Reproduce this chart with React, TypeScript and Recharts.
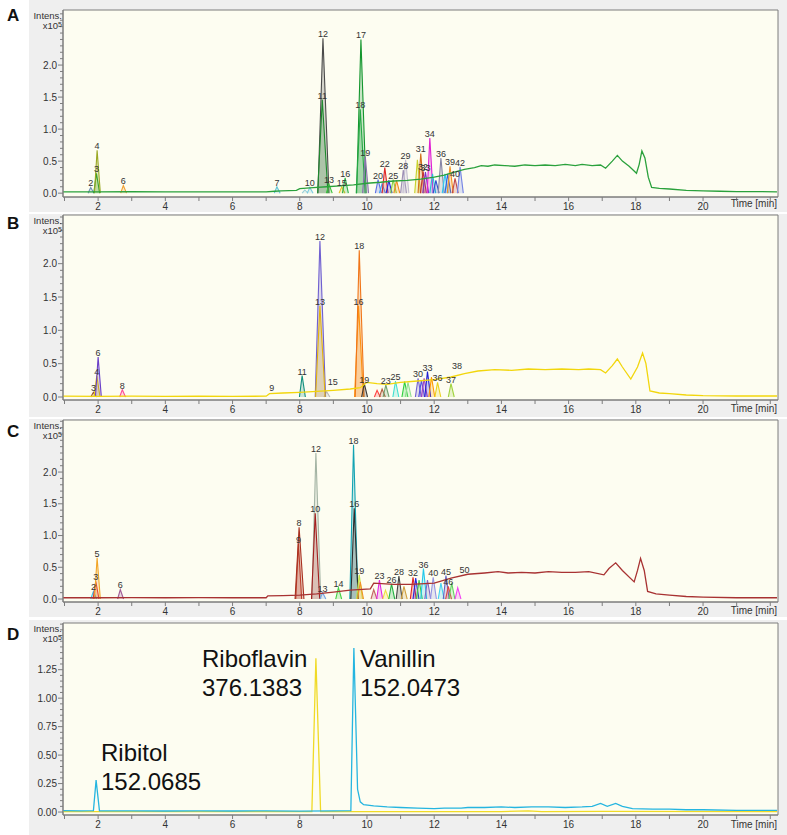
import { ComposedChart, Area, Line, Scatter, XAxis, YAxis, CartesianGrid, ReferenceArea } from 'recharts';

type Pt = [number, number];
type Peak = { n: string; t: number; h: number; c: string; w?: number };

const FONT = '"Liberation Sans", Arial, sans-serif';
const AXIS = '#7d7d7d';
const X_DOMAIN: [number, number] = [0.955, 22.23];

const timeTicks = [1, 2, 3, 4, 5, 6, 7, 8, 9, 10, 11, 12, 13, 14, 15, 16, 17, 18, 19, 20, 21, 22];
const timeLabels = [2, 4, 6, 8, 10, 12, 14, 16, 18, 20];
const intensMajorABC = [0, 0.5, 1.0, 1.5, 2.0];
const intensMajorD = [0, 0.25, 0.5, 0.75, 1.0, 1.25];

// total ion traces (time, intensity x1e5)
const baselineA: Pt[] = [
  [0.96, 0.02], [2, 0.02], [3, 0.022], [4, 0.02], [5, 0.021], [6, 0.02], [7, 0.02], [7.25, 0.03], [7.45, 0.035],
  [7.9, 0.045], [8.0, 0.07], [8.4, 0.085], [8.8, 0.1], [9.2, 0.115], [9.6, 0.13], [10, 0.155], [10.4, 0.17],
  [10.8, 0.19], [11.2, 0.2], [11.6, 0.22], [12, 0.25], [12.3, 0.28], [12.6, 0.33], [12.9, 0.37], [13.2, 0.4],
  [13.4, 0.43], [13.6, 0.42], [13.8, 0.44], [14.1, 0.43], [14.4, 0.42], [14.7, 0.44], [15, 0.43], [15.3, 0.44],
  [15.6, 0.43], [15.9, 0.45], [16.2, 0.43], [16.4, 0.45], [16.7, 0.43], [16.95, 0.44], [17.1, 0.39], [17.3, 0.5],
  [17.45, 0.59], [17.6, 0.5], [17.8, 0.42], [18.02, 0.31], [18.1, 0.45], [18.18, 0.66], [18.27, 0.55], [18.37, 0.25],
  [18.47, 0.09], [18.7, 0.075], [19, 0.065], [19.5, 0.045], [20, 0.035], [20.5, 0.03], [21, 0.025], [21.5, 0.025], [22.2, 0.02],
];

const baselineB: Pt[] = [
  [0.96, 0.012], [2, 0.01], [3, 0.012], [4, 0.01], [5, 0.011], [6, 0.01], [7, 0.012], [7.1, 0.05], [7.5, 0.06],
  [8, 0.07], [8.5, 0.085], [9, 0.1], [9.5, 0.12], [9.8, 0.14], [10, 0.22], [10.3, 0.2], [10.6, 0.19], [11, 0.22],
  [11.5, 0.24], [12, 0.26], [12.5, 0.3], [12.9, 0.35], [13.3, 0.39], [13.8, 0.41], [14.3, 0.4], [14.8, 0.42],
  [15.3, 0.41], [15.8, 0.42], [16.3, 0.41], [16.6, 0.42], [16.95, 0.41], [17.1, 0.36], [17.3, 0.47], [17.45, 0.57],
  [17.6, 0.45], [17.85, 0.27], [18.05, 0.45], [18.2, 0.66], [18.3, 0.5], [18.42, 0.09], [18.7, 0.06], [19, 0.05],
  [19.5, 0.03], [20, 0.02], [21, 0.015], [22.2, 0.015],
];

const baselineC: Pt[] = [
  [0.96, 0.02], [2, 0.02], [3, 0.021], [4, 0.02], [5, 0.022], [6, 0.02], [7, 0.02], [7.05, 0.05], [7.5, 0.055],
  [8, 0.06], [8.5, 0.08], [9, 0.11], [9.5, 0.14], [10.1, 0.16], [10.2, 0.25], [10.8, 0.23], [11.3, 0.23], [12, 0.25],
  [12.5, 0.33], [13, 0.39], [13.5, 0.41], [13.9, 0.43], [14.2, 0.41], [14.6, 0.42], [15, 0.41], [15.4, 0.43],
  [15.8, 0.42], [16.2, 0.42], [16.6, 0.43], [17.05, 0.38], [17.2, 0.48], [17.4, 0.57], [17.6, 0.45], [17.95, 0.27],
  [18.05, 0.45], [18.14, 0.64], [18.25, 0.45], [18.35, 0.12], [18.6, 0.08], [19, 0.06], [19.5, 0.04], [20, 0.03],
  [21, 0.02], [22.2, 0.02],
];

const cyanD: Pt[] = [
  [0.96, 0.012], [1.5, 0.01], [1.86, 0.012], [1.94, 0.28], [2.04, 0.01], [3, 0.01], [4, 0.009], [5, 0.011],
  [6, 0.009], [7, 0.01], [8, 0.008], [9, 0.01], [9.52, 0.012], [9.61, 1.44], [9.72, 0.2], [9.8, 0.09], [9.9, 0.065],
  [10.2, 0.055], [10.6, 0.045], [11, 0.04], [11.5, 0.035], [12, 0.03], [12.3, 0.035], [12.8, 0.035], [13, 0.04],
  [13.5, 0.04], [14, 0.045], [14.4, 0.04], [14.9, 0.045], [15.4, 0.045], [15.9, 0.04], [16.4, 0.045], [16.7, 0.05],
  [16.95, 0.075], [17.15, 0.05], [17.4, 0.075], [17.6, 0.05], [17.9, 0.03], [18.5, 0.025], [19, 0.025], [19.5, 0.02],
  [20, 0.02], [21, 0.015], [22.2, 0.015],
];

const yellowD: Pt[] = [
  [0.96, 0.004], [4, 0.004], [8, 0.004], [8.36, 0.004], [8.48, 1.35], [8.62, 0.004], [10, 0.003], [12, 0.003],
  [14, 0.004], [14.8, 0.01], [15.2, 0.004], [17, 0.005], [22.2, 0.003],
];

// extracted ion peaks: label, apex time, apex height, colour
const peaksA: Peak[] = [
  { n: '2', t: 1.78, h: 0.09, c: '#6f8fb5' },
  { n: '3', t: 1.95, h: 0.31, c: '#22a02a' },
  { n: '4', t: 1.97, h: 0.67, c: '#9aa823' },
  { n: '6', t: 2.75, h: 0.12, c: '#f0a030' },
  { n: '7', t: 7.32, h: 0.1, c: '#5ec4d4' },
  { n: '', t: 8.15, h: 0.05, c: '#9ad0d8' },
  { n: '10', t: 8.3, h: 0.09, c: '#7ccbe0' },
  { n: '12', t: 8.69, h: 2.42, c: '#4a4a4a', w: 0.15 },
  { n: '11', t: 8.67, h: 1.46, c: '#1e8a2e', w: 0.14 },
  { n: '13', t: 8.87, h: 0.14, c: '#3cc43c' },
  { n: '15', t: 9.25, h: 0.1, c: '#e6c21e' },
  { n: '16', t: 9.35, h: 0.24, c: '#2fb14a' },
  { n: '17', t: 9.82, h: 2.4, c: '#14962e', w: 0.13 },
  { n: '18', t: 9.8, h: 1.31, c: '#25a845', w: 0.12 },
  { n: '19', t: 9.95, h: 0.57, c: '#8c6fb0' },
  { n: '20', t: 10.33, h: 0.21, c: '#5a6ee6' },
  { n: '', t: 10.45, h: 0.15, c: '#40a0f0' },
  { n: '22', t: 10.53, h: 0.4, c: '#e02424' },
  { n: '', t: 10.65, h: 0.2, c: '#2424e0' },
  { n: '25', t: 10.78, h: 0.21, c: '#8ad040' },
  { n: '', t: 10.88, h: 0.2, c: '#f08c20' },
  { n: '28', t: 11.08, h: 0.36, c: '#9d8fb5' },
  { n: '29', t: 11.15, h: 0.52, c: '#c4bed2' },
  { n: '', t: 11.5, h: 0.52, c: '#c8d22a' },
  { n: '31', t: 11.6, h: 0.62, c: '#d2701a' },
  { n: '32', t: 11.67, h: 0.34, c: '#c23434' },
  { n: '33', t: 11.74, h: 0.33, c: '#7a34c8' },
  { n: '34', t: 11.87, h: 0.86, c: '#e01ed2' },
  { n: '', t: 11.95, h: 0.3, c: '#28c0d8' },
  { n: '', t: 12.05, h: 0.2, c: '#3050d0' },
  { n: '36', t: 12.2, h: 0.55, c: '#8585a5' },
  { n: '', t: 12.32, h: 0.3, c: '#30c8f0' },
  { n: '', t: 12.4, h: 0.3, c: '#3060e0' },
  { n: '39', t: 12.47, h: 0.42, c: '#f29022' },
  { n: '40', t: 12.62, h: 0.23, c: '#c04848' },
  { n: '42', t: 12.77, h: 0.41, c: '#7484e4' },
];

const peaksB: Peak[] = [
  { n: '3', t: 1.86, h: 0.07, c: '#a0522d' },
  { n: '4', t: 1.96, h: 0.32, c: '#e8c800' },
  { n: '6', t: 2.0, h: 0.6, c: '#6a3fc8' },
  { n: '8', t: 2.72, h: 0.11, c: '#ff4d94' },
  { n: '9', t: 7.17, h: 0.08, c: '' },
  { n: '11', t: 8.07, h: 0.32, c: '#12907e' },
  { n: '', t: 8.8, h: 0.08, c: '#b8b8b8' },
  { n: '12', t: 8.6, h: 2.34, c: '#6f5fd0', w: 0.14 },
  { n: '13', t: 8.6, h: 1.37, c: '#e3b30a', w: 0.13 },
  { n: '15', t: 8.98, h: 0.16, c: '' },
  { n: '16', t: 9.75, h: 1.37, c: '#ff9a10', w: 0.12 },
  { n: '18', t: 9.77, h: 2.2, c: '#f07518', w: 0.12 },
  { n: '19', t: 9.92, h: 0.2, c: '#3a3a3a' },
  { n: '', t: 10.3, h: 0.1, c: '#ff4040' },
  { n: '', t: 10.45, h: 0.12, c: '#b06040' },
  { n: '23', t: 10.56, h: 0.18, c: '#6fa36f' },
  { n: '25', t: 10.85, h: 0.24, c: '#3fe0d0' },
  { n: '', t: 11.12, h: 0.23, c: '#30d040' },
  { n: '', t: 11.22, h: 0.22, c: '#90e090' },
  { n: '30', t: 11.52, h: 0.28, c: '#7362d2' },
  { n: '', t: 11.62, h: 0.25, c: '#5050e0' },
  { n: '', t: 11.7, h: 0.28, c: '#a040c0' },
  { n: '33', t: 11.8, h: 0.38, c: '#1f1fd4' },
  { n: '', t: 11.92, h: 0.3, c: '#ff9a00' },
  { n: '36', t: 12.1, h: 0.22, c: '#e9d21e' },
  { n: '37', t: 12.5, h: 0.2, c: '#9fd33c' },
  { n: '38', t: 12.68, h: 0.4, c: '' },
];

const peaksC: Peak[] = [
  { n: '2', t: 1.86, h: 0.12, c: '#38c2e6' },
  { n: '3', t: 1.93, h: 0.28, c: '#e23434' },
  { n: '5', t: 1.97, h: 0.65, c: '#f2a526' },
  { n: '6', t: 2.66, h: 0.15, c: '#a05a96' },
  { n: '9', t: 7.96, h: 0.87, c: '#c0422e' },
  { n: '8', t: 7.98, h: 1.13, c: '#a8301f', w: 0.12 },
  { n: '12', t: 8.48, h: 2.3, c: '#a4b4a4', w: 0.12 },
  { n: '10', t: 8.46, h: 1.35, c: '#a31f1f', w: 0.11 },
  { n: '13', t: 8.68, h: 0.1, c: '#74a4e4' },
  { n: '14', t: 9.15, h: 0.18, c: '#44d244' },
  { n: '18', t: 9.6, h: 2.43, c: '#12a3b3', w: 0.11 },
  { n: '16', t: 9.62, h: 1.43, c: '#2e2e2e', w: 0.1 },
  { n: '19', t: 9.77, h: 0.38, c: '#c4e444' },
  { n: '', t: 9.8, h: 0.27, c: '#f29224' },
  { n: '', t: 10.2, h: 0.15, c: '#c46464' },
  { n: '23', t: 10.37, h: 0.3, c: '#e224e2' },
  { n: '', t: 10.55, h: 0.14, c: '#f0e040' },
  { n: '26', t: 10.73, h: 0.24, c: '#24b244' },
  { n: '28', t: 10.95, h: 0.36, c: '#444444' },
  { n: '', t: 11.1, h: 0.2, c: '#d0a040' },
  { n: '32', t: 11.37, h: 0.34, c: '#e22424' },
  { n: '', t: 11.45, h: 0.33, c: '#2424e2' },
  { n: '', t: 11.55, h: 0.3, c: '#44c444' },
  { n: '36', t: 11.68, h: 0.48, c: '#22c8ea' },
  { n: '', t: 11.8, h: 0.3, c: '#8464c4' },
  { n: '40', t: 11.97, h: 0.34, c: '#9494e4' },
  { n: '', t: 12.2, h: 0.25, c: '#44d2f2' },
  { n: '45', t: 12.35, h: 0.37, c: '#6464c4' },
  { n: '46', t: 12.42, h: 0.2, c: '#e24444' },
  { n: '', t: 12.52, h: 0.25, c: '#64d264' },
  { n: '', t: 12.7, h: 0.18, c: '#f244f2' },
  { n: '50', t: 12.9, h: 0.4, c: '' },
];

const toRows = (pts: Pt[]) => pts.map(([t, v]) => ({ t, v }));
const peakRows = (p: Peak) => {
  const w = p.w ?? 0.08;
  return [{ t: p.t - w, v: 0 }, { t: p.t, v: p.h }, { t: p.t + w * 1.2, v: 0 }];
};
const tickSteps = (top: number, step: number) => {
  const out: number[] = [];
  for (let i = 0; i * step <= top + 1e-9; i++) out.push(Math.round(i * step * 1000) / 1000);
  return out;
};

const XTick = (p: any) => {
  const v = p.payload.value;
  return (
    <g>
      <line x1={p.x} x2={p.x} y1={p.y} y2={p.y + 4} stroke={AXIS} />
      {timeLabels.includes(v) && (
        <text x={p.x} y={p.y + 6} dy="0.71em" textAnchor="middle" fontSize={10} fill="#333" fontFamily={FONT}>{v}</text>
      )}
    </g>
  );
};

const YTick = (p: any) => {
  const v = p.payload.value;
  const major = p.majors.some((m: number) => Math.abs(m - v) < 1e-6);
  return (
    <g>
      <line x1={p.x - (major ? 5 : 3)} x2={p.x} y1={p.y} y2={p.y} stroke={AXIS} />
      {major && (
        <text x={p.x - 6} y={p.y} dy="0.35em" textAnchor="end" fontSize={10} fill="#333" fontFamily={FONT}>{v.toFixed(p.digits)}</text>
      )}
    </g>
  );
};

const PeakLabel = (p: any) => (
  <text x={p.cx} y={p.cy - 1} textAnchor="middle" fontSize={9} fill="#333" fontFamily={FONT}>{p.payload.n}</text>
);

type PanelProps = {
  top: number; height: number; yDomain: [number, number]; majors: number[]; minorTop: number; minorStep: number;
  digits: number; lines: { pts: Pt[]; c: string }[]; peaks: Peak[];
};

function Panel({ top, height, yDomain, majors, minorTop, minorStep, digits, lines, peaks }: PanelProps) {
  const yTicks = tickSteps(minorTop, minorStep);
  const labels = peaks.filter((p) => p.n).map((p) => ({ t: p.t, v: p.h, n: p.n }));
  return (
    <div style={{ position: 'absolute', left: 0, top }}>
      <ComposedChart width={787} height={height} margin={{ top: 10, right: 9, bottom: 0, left: 0 }}>
        <CartesianGrid horizontal={false} vertical={false} fill="#fdfdf1" />
        <XAxis type="number" dataKey="t" domain={X_DOMAIN} ticks={timeTicks} interval={0} allowDataOverflow height={18}
          tickSize={0} tickMargin={0} tickLine={false} axisLine={{ stroke: AXIS }} tick={XTick} />
        <YAxis type="number" domain={yDomain} ticks={yTicks} interval={0} allowDataOverflow width={63}
          tickSize={0} tickMargin={0} tickLine={false} axisLine={{ stroke: AXIS }}
          tick={(p: any) => <YTick {...p} majors={majors} digits={digits} />} />
        {peaks.filter((p) => p.c).map((p, i) => (
          <Area key={`pk${i}`} type="linear" data={peakRows(p)} dataKey="v" stroke={p.c} strokeWidth={1.1}
            fill={p.c} fillOpacity={0.22} dot={false} activeDot={false} isAnimationActive={false} />
        ))}
        {lines.map((l, i) => (
          <Line key={`bl${i}`} type="linear" data={toRows(l.pts)} dataKey="v" stroke={l.c} strokeWidth={1.3}
            dot={false} activeDot={false} isAnimationActive={false} />
        ))}
        <Scatter data={labels} dataKey="v" shape={PeakLabel} isAnimationActive={false} />
        <ReferenceArea x1={X_DOMAIN[0]} x2={X_DOMAIN[1]} y1={yDomain[0]} y2={yDomain[1]} fill="none"
          stroke={AXIS} ifOverflow="visible" />
      </ComposedChart>
    </div>
  );
}

const panelBoxes = [
  { id: 'A', bgTop: 0, bgH: 212, letter: 7, intens: 11, time: 199 },
  { id: 'B', bgTop: 214, bgH: 203, letter: 215, intens: 216, time: 404 },
  { id: 'C', bgTop: 419, bgH: 198, letter: 423, intens: 421, time: 606 },
  { id: 'D', bgTop: 620, bgH: 215, letter: 626, intens: 624, time: 820 },
];

const dText: React.CSSProperties = { position: 'absolute', fontSize: 24, lineHeight: '29px', color: '#111', fontFamily: FONT };

export default function App() {
  return (
    <div style={{ position: 'absolute', left: 0, top: 0, width: 787, height: 835, background: '#fff', overflow: 'hidden', fontFamily: FONT }}>
      {panelBoxes.map((b) => (
        <div key={b.id} style={{ position: 'absolute', left: 29, top: b.bgTop, width: 758, height: b.bgH, background: '#efefef' }} />
      ))}
      <Panel top={0} height={215} yDomain={[-0.06, 2.86]} majors={intensMajorABC} minorTop={2.8} minorStep={0.1} digits={1}
        lines={[{ pts: baselineA, c: '#2aa13c' }]} peaks={peaksA} />
      <Panel top={205} height={213} yDomain={[-0.045, 2.73]} majors={intensMajorABC} minorTop={2.7} minorStep={0.1} digits={1}
        lines={[{ pts: baselineB, c: '#f2d60c' }]} peaks={peaksB} />
      <Panel top={410} height={210} yDomain={[-0.047, 2.82]} majors={intensMajorABC} minorTop={2.8} minorStep={0.1} digits={1}
        lines={[{ pts: baselineC, c: '#a83232' }]} peaks={peaksC} />
      <Panel top={613} height={220} yDomain={[-0.026, 1.66]} majors={intensMajorD} minorTop={1.65} minorStep={0.05} digits={2}
        lines={[{ pts: yellowD, c: '#f0da26' }, { pts: cyanD, c: '#25b5e0' }]} peaks={[]} />
      {panelBoxes.map((b) => (
        <div key={`t${b.id}`}>
          <div style={{ position: 'absolute', left: 7, top: b.letter, fontSize: 17, fontWeight: 'bold', lineHeight: 1, color: '#111' }}>{b.id}</div>
          <div style={{ position: 'absolute', left: 20, width: 42, top: b.intens, textAlign: 'right', fontSize: 9.5, lineHeight: '10px', color: '#333' }}>
            Intens.<br />x10<sup style={{ fontSize: 7, verticalAlign: 'top', lineHeight: '8px' }}>5</sup>
          </div>
          <div style={{ position: 'absolute', left: 700, width: 77, top: b.time, textAlign: 'right', fontSize: 10, lineHeight: 1, color: '#333' }}>Time [min]</div>
        </div>
      ))}
      <div style={{ ...dText, left: 101, top: 738 }}>Ribitol<br />152.0685</div>
      <div style={{ ...dText, left: 202, top: 644 }}>Riboflavin<br />376.1383</div>
      <div style={{ ...dText, left: 360, top: 644 }}>Vanillin<br />152.0473</div>
    </div>
  );
}
